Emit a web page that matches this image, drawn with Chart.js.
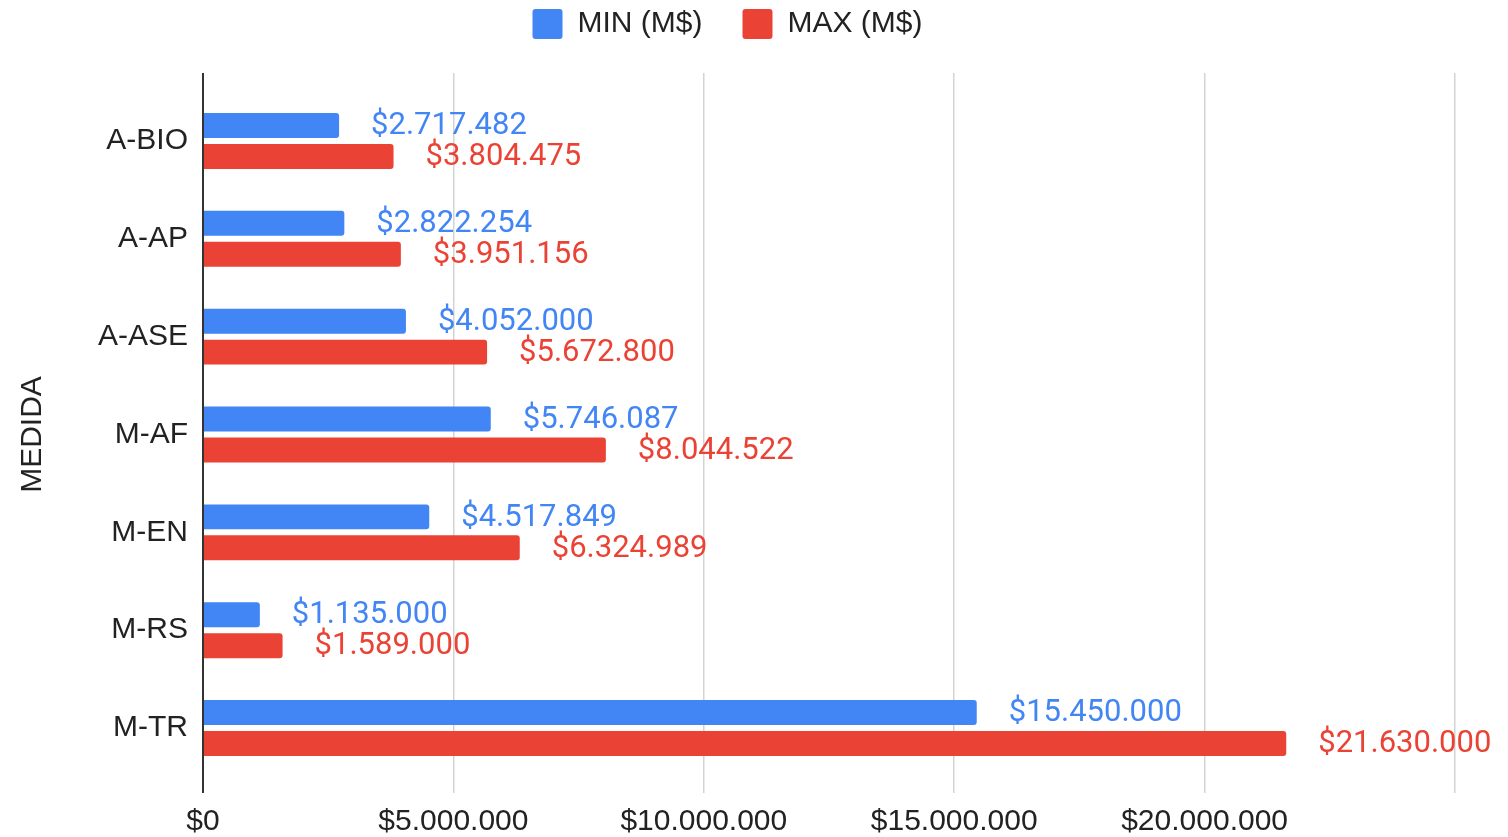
<!DOCTYPE html>
<html>
<head>
<meta charset="utf-8">
<script src="https://cdn.jsdelivr.net/npm/chart.js@4"></script>
<style>
    body { margin: 0; background: #fff; }
    #wrap { width: 1508px; height: 837px; }
</style>
</head>
<body>
<div id="wrap"><canvas id="chart"></canvas></div>
<script>
// data
const categories = ['A-BIO', 'A-AP', 'A-ASE', 'M-AF', 'M-EN', 'M-RS', 'M-TR'];
const minValues = [2717482, 2822254, 4052000, 5746087, 4517849, 1135000, 15450000];
const maxValues = [3804475, 3951156, 5672800, 8044522, 6324989, 1589000, 21630000];
const seriesNames = ['MIN (M$)', 'MAX (M$)'];
const axisTitle = 'MEDIDA';
const xMax = 25000000;
const xStep = 5000000;

const BLUE = '#4285F4';
const RED = '#EA4335';
const TEXT = '#222222';
const ARIAL = "'Liberation Sans', Arial, sans-serif";

// $1.234.567 style
function fmt(v) {
    return '$' + String(Math.round(v)).replace(/\B(?=(\d{3})+(?!\d))/g, '.');
}

function gridColor(ctx) {
    return ctx.tick && ctx.tick.value === 0 ? '#333333' : '#d3d3d3';
}

// draws the value text to the right of each bar
const valueLabels = {
    id: 'valueLabels',
    afterDatasetsDraw(chart) {
        const ctx = chart.ctx;
        ctx.save();
        ctx.font = "31px Roboto, sans-serif";
        ctx.textAlign = 'left';
        ctx.textBaseline = 'middle';
        chart.data.datasets.forEach((ds, i) => {
            const meta = chart.getDatasetMeta(i);
            ctx.fillStyle = ds.backgroundColor;
            meta.data.forEach((bar, j) => {
                ctx.fillText(fmt(ds.data[j]), bar.x + 32, bar.y + 1);
            });
        });
        ctx.restore();
    }
};

new Chart(document.getElementById('chart'), {
    type: 'bar',
    data: {
        labels: categories,
        datasets: [
            {
                label: seriesNames[0],
                data: minValues,
                backgroundColor: BLUE,
                borderRadius: 3,
                categoryPercentage: 0.633,
                barPercentage: 0.806
            },
            {
                label: seriesNames[1],
                data: maxValues,
                backgroundColor: RED,
                borderRadius: 3,
                categoryPercentage: 0.633,
                barPercentage: 0.806
            }
        ]
    },
    options: {
        indexAxis: 'y',
        responsive: true,
        maintainAspectRatio: false,
        animation: false,
        layout: { padding: { left: 0, right: 53, top: -31, bottom: 0 } },
        plugins: {
            tooltip: { enabled: false },
            legend: {
                position: 'top',
                labels: {
                    boxWidth: 30,
                    boxHeight: 30,
                    useBorderRadius: true,
                    borderRadius: 3,
                    padding: 40,
                    color: TEXT,
                    font: { family: ARIAL, size: 30 }
                }
            }
        },
        scales: {
            x: {
                position: 'bottom',
                min: 0,
                max: xMax,
                afterFit: (s) => { s.height = 60; },
                border: { display: false },
                grid: {
                    color: gridColor,
                    lineWidth: (c) => (c.tick && c.tick.value === 0 ? 2 : 1.5),
                    drawTicks: true,
                    tickLength: 16
                },
                ticks: {
                    stepSize: xStep,
                    maxRotation: 0,
                    autoSkip: false,
                    padding: 11,
                    color: TEXT,
                    font: { family: ARIAL, size: 30 },
                    callback: (v) => (v === xMax ? '' : fmt(v))
                }
            },
            x2: {
                type: 'linear',
                position: 'top',
                min: 0,
                max: xMax,
                afterFit: (s) => { s.height = 43; },
                border: { display: false },
                grid: {
                    color: gridColor,
                    lineWidth: (c) => (c.tick && c.tick.value === 0 ? 2 : 1.5),
                    drawOnChartArea: false,
                    drawTicks: true,
                    tickLength: 19
                },
                ticks: { stepSize: xStep, display: false }
            },
            y: {
                afterFit: (s) => { s.width = 203; },
                border: { display: false },
                grid: { display: false, drawTicks: false },
                ticks: {
                    padding: 15,
                    color: TEXT,
                    font: { family: ARIAL, size: 30 }
                },
                title: {
                    display: true,
                    text: axisTitle,
                    color: TEXT,
                    padding: { top: 15, bottom: 0 },
                    font: { family: ARIAL, size: 30 }
                }
            }
        }
    },
    plugins: [valueLabels]
});
</script>
</body>
</html>
